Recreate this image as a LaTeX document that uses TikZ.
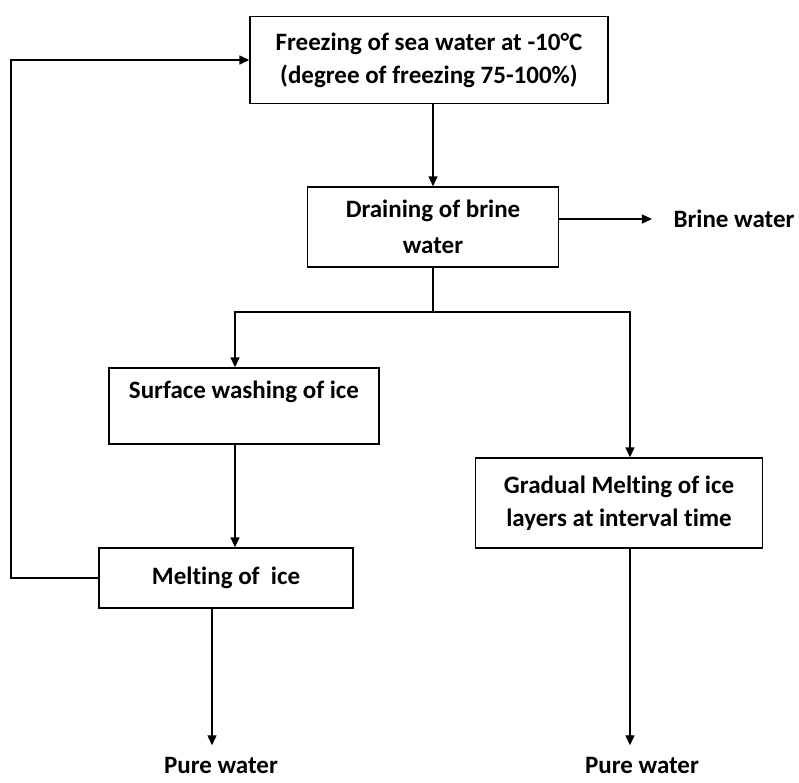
\documentclass[tikz,border=0pt]{standalone}
\usepackage{fontspec}
\setmainfont{Carlito}[Ligatures=NoCommon]
\usetikzlibrary{arrows.meta,positioning}

\tikzset{
  box/.style={draw, line width=1.4pt, align=center, inner sep=0pt,
    font=\bfseries\fontsize{25}{33}\selectfont},
  lbl/.style={font=\bfseries\fontsize{25}{33}\selectfont},
  flow/.style={line width=1.4pt, -{Triangle[length=10pt,width=9pt]}},
  link/.style={line width=1.4pt}
}

\begin{document}
\begin{tikzpicture}[x=1pt,y=-1pt]
		\useasboundingbox (0,0) rectangle (799,782);

		% Process boxes
		\node[box, minimum width=358, minimum height=87] (freeze) at (429,60)
		{Freezing of sea water at -10°C\\(degree of freezing 75-100\%)};
		\node[box, minimum width=251, minimum height=80] (drain) at (433,227)
		{Draining of brine\\[3pt]water};
		\node[box, minimum width=270, minimum height=76] (surf) at (244,406)
		{Surface washing of ice\\\mbox{}};
		\node[box, minimum width=254, minimum height=60] (melt) at (226,578)
		{Melting of~ ice};
		\node[box, minimum width=287, minimum height=90] (grad) at (619,503)
		{Gradual Melting of ice\\layers at interval time};

		% Outputs
		\node[lbl] (brine) at (734,219) {Brine water};
		\node[lbl] (pure1) at (221,765) {Pure water};
		\node[lbl] (pure2) at (642,765) {Pure water};

		% Helper points
		\coordinate (split) at (433,312);
		\coordinate (loop) at (11,0);

		% Main flow
		\draw[flow] (drain.north |- freeze.south) -- (drain.north);
		\draw[flow, shorten >=18pt] (drain.east |- brine) -- (brine.west);
		\draw[link] (drain.south) -- (split);
		\draw[flow] (split) -| ([xshift=-9pt]surf.north);
		\draw[flow] (split) -| ([xshift=11pt]grad.north);
		\draw[flow] ([xshift=-9pt]surf.south) -- ([xshift=-9pt]surf.south |- melt.north);

		% Pure water outlets
		\draw[flow, shorten >=8pt] ([xshift=-14pt]melt.south) -- ([xshift=-14pt]melt.south |- pure1.north);
		\draw[flow, shorten >=8pt] ([xshift=11pt]grad.south) -- ([xshift=11pt]grad.south |- pure2.north);

		% Recycle back to freezing
		\draw[flow] (melt.west) -- (melt.west -| loop) |- (freeze.west);
	\end{tikzpicture}
\end{document}
